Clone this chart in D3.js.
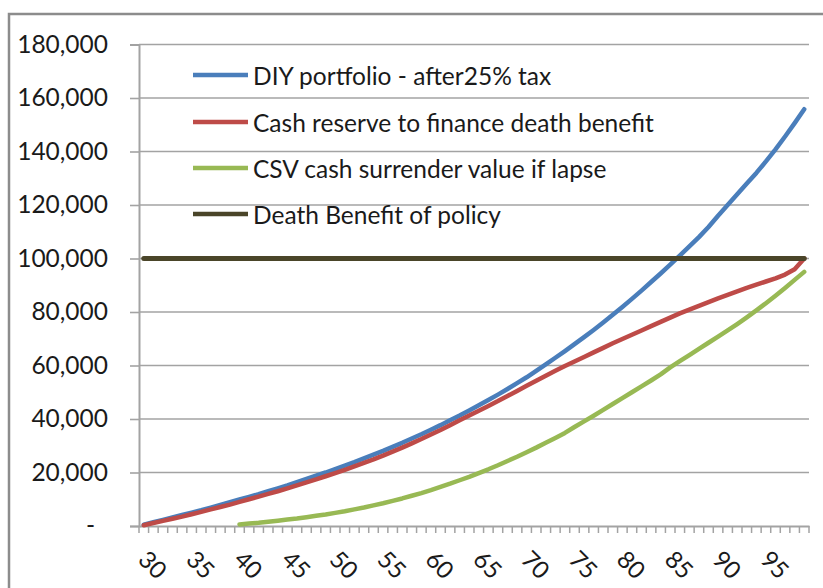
<!DOCTYPE html>
<html>
<head>
<meta charset="utf-8">
<script src="https://cdn.jsdelivr.net/npm/d3@7"></script>
<style>
  html, body { margin: 0; padding: 0; background: #fff; }
  svg { display: block; }
  text { font-family: Lato, "Open Sans", sans-serif; fill: #1a1a1a; }
</style>
</head>
<body>
<svg id="chart" width="823" height="588"></svg>
<script>
// ---- Data ----
const ages = d3.range(30, 100); // 30..99
const xLabels = [30, 35, 40, 45, 50, 55, 60, 65, 70, 75, 80, 85, 90, 95];
const yTicks = [0, 20000, 40000, 60000, 80000, 100000, 120000, 140000, 160000, 180000];

const diyPortfolio = [
  500, 1400, 2300, 3200, 4100, 5000, 5900, 6900, 7900, 8900,
  9900, 10900, 11900, 13000, 14100, 15200, 16400, 17600, 18800, 20000,
  21300, 22600, 23900, 25300, 26700, 28100, 29600, 31100, 32700, 34300,
  36000, 37700, 39500, 41300, 43200, 45100, 47100, 49100, 51200, 53400,
  55600, 58000, 60400, 62900, 65400, 68000, 70600, 73300, 76100, 79000,
  81900, 84900, 88000, 91200, 94400, 97700, 101100, 104500, 108000, 111800,
  116000, 120000, 124000, 128000, 132000, 136300, 140800, 145600, 150600, 155800
];
const cashReserve = [
  300, 1100, 1900, 2700, 3500, 4400, 5300, 6200, 7100, 8000,
  9000, 10000, 11000, 12000, 13000, 14100, 15200, 16300, 17400, 18600,
  19800, 21000, 22300, 23600, 24900, 26300, 27800, 29300, 30900, 32500,
  34200, 35900, 37700, 39500, 41300, 43100, 44900, 46700, 48600, 50500,
  52400, 54300, 56200, 58000, 59800, 61500, 63200, 64900, 66600, 68300,
  69900, 71500, 73100, 74700, 76300, 77900, 79500, 80900, 82300, 83700,
  85100, 86400, 87700, 89000, 90200, 91400, 92600, 94000, 96000, 100000
];
const csvAges = d3.range(40, 100);
const cashSurrender = [
  600, 900, 1200, 1600, 2000, 2400, 2800, 3300, 3800, 4300,
  4900, 5500, 6200, 6900, 7700, 8500, 9400, 10300, 11300, 12300,
  13400, 14600, 15800, 17100, 18400, 19800, 21200, 22700, 24300, 25900,
  27600, 29300, 31100, 32900, 34800, 37000, 39100, 41200, 43400, 45600,
  47800, 50000, 52200, 54400, 56700, 59300, 61600, 63900, 66200, 68500,
  70800, 73100, 75500, 78000, 80600, 83300, 86100, 89000, 92000, 95000
];
const deathBenefit = ages.map(() => 100000);

const seriesNames = [
  "DIY portfolio - after25% tax",
  "Cash reserve to finance death benefit",
  "CSV cash surrender value if lapse",
  "Death Benefit of policy"
];
const seriesColors = ["#4a7ebb", "#be4b48", "#98b954", "#4a4529"];

// ---- Layout ----
const svg = d3.select("#chart");
const plotLeft = 139, plotRight = 809, plotTop = 44.5, plotBottom = 526;
const gridColor = "#a3a3a3";

// outer chart border
svg.append("rect")
  .attr("x", 9).attr("y", 14)
  .attr("width", 840).attr("height", 600)
  .attr("fill", "none").attr("stroke", "#8c8c8c").attr("stroke-width", 2.5);

const x = d3.scaleBand().domain(ages).range([plotLeft, plotRight]).padding(0);
const y = d3.scaleLinear().domain([0, 180000]).range([plotBottom, plotTop]);
const cx = a => x(a) + x.bandwidth() / 2;

// gridlines
svg.append("g").selectAll("line")
  .data(yTicks.filter(d => d > 0))
  .join("line")
  .attr("x1", plotLeft).attr("x2", plotRight)
  .attr("y1", d => y(d)).attr("y2", d => y(d))
  .attr("stroke", gridColor).attr("stroke-width", 1.6);

// y axis
const yAxis = svg.append("g")
  .attr("transform", `translate(${plotLeft},0)`)
  .call(d3.axisLeft(y).tickValues(yTicks).tickSize(9).tickPadding(22)
    .tickFormat(d => d === 0 ? "-" : d3.format(",")(d)));
yAxis.select(".domain").attr("stroke", gridColor).attr("stroke-width", 2);
yAxis.selectAll(".tick line").attr("stroke", gridColor).attr("stroke-width", 1.6);
yAxis.selectAll(".tick text")
  .style("font-size", "24.5px").attr("fill", "#1a1a1a")
  .attr("x", d => d === 0 ? -44 : -31);

// x axis
const xAxis = svg.append("g")
  .attr("transform", `translate(0,${plotBottom})`)
  .call(d3.axisBottom(x).tickValues(xLabels).tickSize(0).tickFormat(d => d));
xAxis.select(".domain").attr("stroke", gridColor).attr("stroke-width", 2);
xAxis.selectAll(".tick text")
  .style("font-size", "24px").attr("fill", "#1a1a1a")
  .attr("text-anchor", "start")
  .attr("dy", null)
  .attr("y", 0)
  .attr("transform", "translate(-7,35) rotate(45)");

// category boundary ticks
const bounds = ages.map(a => x(a)).concat([x(ages[ages.length - 1]) + x.bandwidth()]);
svg.append("g").selectAll("line")
  .data(bounds)
  .join("line")
  .attr("x1", d => d).attr("x2", d => d)
  .attr("y1", plotBottom).attr("y2", plotBottom + 7)
  .attr("stroke", gridColor).attr("stroke-width", 1.5);

// lines
const line = d3.line().x(d => cx(d[0])).y(d => y(d[1]));
const seriesData = [
  d3.zip(ages, diyPortfolio),
  d3.zip(ages, cashReserve),
  d3.zip(csvAges, cashSurrender),
  d3.zip(ages, deathBenefit)
];
const widths = [4.5, 4.5, 4.5, 5];
seriesData.forEach((data, i) => {
  svg.append("path")
    .datum(data)
    .attr("d", line)
    .attr("fill", "none")
    .attr("stroke", seriesColors[i])
    .attr("stroke-width", widths[i])
    .attr("stroke-linejoin", "round")
    .attr("stroke-linecap", "round");
});

// legend
const legendRows = [75, 122, 168, 214];
const lg = svg.append("g");
seriesNames.forEach((name, i) => {
  lg.append("line")
    .attr("x1", 193).attr("x2", 248)
    .attr("y1", legendRows[i]).attr("y2", legendRows[i])
    .attr("stroke", seriesColors[i]).attr("stroke-width", 4.5);
  lg.append("text")
    .attr("x", 253).attr("y", legendRows[i])
    .attr("dominant-baseline", "central")
    .style("font-size", "24.5px")
    .text(name);
});
</script>
</body>
</html>
